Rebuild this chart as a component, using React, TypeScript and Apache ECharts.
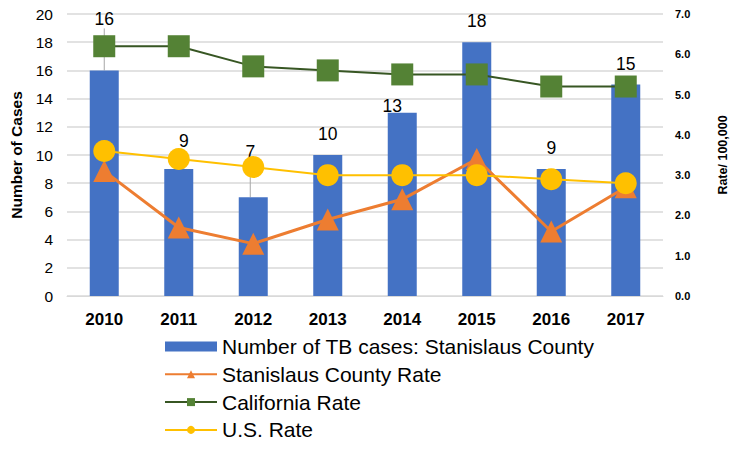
import React, { useEffect, useRef } from "react";
import * as echarts from "echarts";

const years = ["2010", "2011", "2012", "2013", "2014", "2015", "2016", "2017"];
const tbCases = [16, 9, 7, 10, 13, 18, 9, 15];
const stanislausRate = [3.1, 1.7, 1.3, 1.9, 2.4, 3.4, 1.6, 2.7];
const californiaRate = [6.2, 6.2, 5.7, 5.6, 5.5, 5.5, 5.2, 5.2];
const usRate = [3.6, 3.4, 3.2, 3.0, 3.0, 3.0, 2.9, 2.8];

// label nudges (px) and leader-line flags per bar
const labelDx = [0, 5, -3, 0, -10, 0, 0, 0];
const labelDy = [-30, -7, -24, 0, 14, 0, 0, 0];
const labelLeader = [true, true, true, false, false, false, false, false];

const FONT = "'Liberation Sans', Arial, sans-serif";

export default function App() {
  const ref = useRef<HTMLDivElement>(null);
  useEffect(() => {
    if (!ref.current) return;
    const chart = echarts.init(ref.current, undefined, { renderer: "svg" });
    chart.setOption({
      animation: false,
      textStyle: { fontFamily: FONT },
      grid: { left: 67, right: 70, top: 14, bottom: 154, containLabel: false, outerBoundsMode: "none" },
      legend: {
        orient: "vertical",
        left: 164,
        top: 336,
        width: 500,
        height: 114,
        itemWidth: 52,
        itemHeight: 10,
        itemGap: 6.8,
        padding: 0,
        textStyle: { fontSize: 21, color: "#000", fontFamily: FONT },
        data: [
          { name: "Number of TB cases: Stanislaus County", icon: "rect" },
          { name: "Stanislaus County Rate" },
          { name: "California Rate" },
          { name: "U.S. Rate" },
        ],
      },
      xAxis: {
        type: "category",
        data: years,
        axisLine: { show: true, lineStyle: { color: "#D9D9D9", width: 1 } },
        axisTick: { show: false },
        axisLabel: { fontSize: 17, fontWeight: "bold", color: "#000", margin: 15, fontFamily: FONT },
      },
      yAxis: [
        {
          type: "value",
          min: 0,
          max: 20,
          interval: 2,
          name: "Number of Cases",
          nameLocation: "middle",
          nameGap: 34,
          nameTextStyle: { fontSize: 15.5, fontWeight: "bold", color: "#000", fontFamily: FONT },
          axisLine: { show: false },
          axisTick: { show: false },
          axisLabel: { fontSize: 15.5, color: "#000", margin: 14, fontFamily: FONT },
          splitLine: { show: true, lineStyle: { color: "#D9D9D9", width: 1.5 } },
        },
        {
          type: "value",
          min: 0,
          max: 7,
          interval: 1,
          name: "Rate/ 100,000",
          nameLocation: "middle",
          nameGap: 53,
          nameTextStyle: { fontSize: 12.5, fontWeight: "bold", color: "#000", fontFamily: FONT },
          axisLine: { show: false },
          axisTick: { show: false },
          axisLabel: {
            fontSize: 11,
            fontWeight: "bold",
            color: "#000",
            margin: 12,
            fontFamily: FONT,
            formatter: (v: number) => v.toFixed(1),
          },
          splitLine: { show: false },
        },
      ],
      series: [
        {
          name: "Number of TB cases: Stanislaus County",
          type: "bar",
          yAxisIndex: 0,
          barWidth: 29,
          itemStyle: { color: "#4472C4" },
          z: 1,
          label: {
            show: true,
            position: "top",
            distance: 12,
            fontSize: 17.5,
            color: "#000",
            fontFamily: FONT,
          },
          labelLayout: (p: any) => ({ dx: labelDx[p.dataIndex], dy: labelDy[p.dataIndex] }),
          data: tbCases.map((v, i) => ({
            value: v,
            labelLine: { show: labelLeader[i], lineStyle: { color: "#A6A6A6", width: 1 } },
          })),
        },
        {
          name: "Stanislaus County Rate",
          type: "line",
          yAxisIndex: 1,
          data: stanislausRate,
          symbol: "triangle",
          symbolSize: 22,
          lineStyle: { color: "#ED7D31", width: 3 },
          itemStyle: { color: "#ED7D31" },
          z: 3,
        },
        {
          name: "California Rate",
          type: "line",
          yAxisIndex: 1,
          data: californiaRate,
          symbol: "rect",
          symbolSize: 22,
          lineStyle: { color: "#375623", width: 2 },
          itemStyle: { color: "#548235" },
          z: 3,
        },
        {
          name: "U.S. Rate",
          type: "line",
          yAxisIndex: 1,
          data: usRate,
          symbol: "circle",
          symbolSize: 22,
          lineStyle: { color: "#FFC000", width: 2 },
          itemStyle: { color: "#FFC000" },
          z: 4,
        },
      ],
    });
    return () => chart.dispose();
  }, []);
  return <div ref={ref} style={{ width: 733, height: 450, position: "absolute", left: 0, top: 0 }} />;
}
